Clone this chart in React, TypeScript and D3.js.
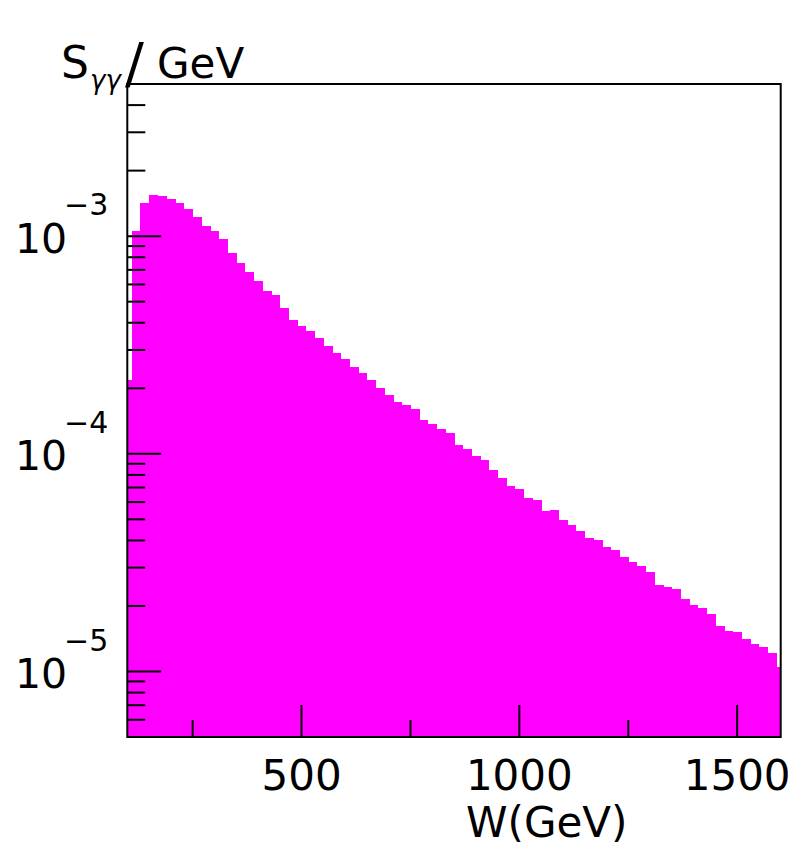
import React from "react";
import * as d3 from "d3";

// histogram: 20 GeV bins centred on 100, 120, ... 1600
const binCenters = d3.range(100, 1601, 20);
const binWidth = 20;

// S_yy / GeV, one per bin
const sValues = [
  2.19e-4, 1.054e-3, 1.425e-3, 1.543e-3, 1.527e-3, 1.475e-3, 1.425e-3, 1.327e-3,
  1.223e-3, 1.112e-3, 1.054e-3, 9.66e-4, 8.39e-4, 7.54e-4, 6.83e-4, 6.21e-4,
  5.58e-4, 5.34e-4, 4.69e-4, 4.14e-4, 3.86e-4, 3.66e-4, 3.41e-4, 3.14e-4,
  2.91e-4, 2.73e-4, 2.51e-4, 2.355e-4, 2.18e-4, 2.01e-4, 1.87e-4, 1.73e-4,
  1.67e-4, 1.6e-4, 1.426e-4, 1.377e-4, 1.302e-4, 1.248e-4, 1.102e-4, 1.053e-4,
  9.81e-5, 9.4e-5, 8.46e-5, 7.75e-5, 7.09e-5, 6.9e-5, 6.27e-5, 6.16e-5,
  5.44e-5, 5.54e-5, 4.95e-5, 4.72e-5, 4.4e-5, 4.1e-5, 4.03e-5, 3.73e-5,
  3.63e-5, 3.36e-5, 3.18e-5, 3.06e-5, 2.85e-5, 2.5e-5, 2.45e-5, 2.4e-5,
  2.15e-5, 2.03e-5, 1.96e-5, 1.84e-5, 1.62e-5, 1.54e-5, 1.52e-5, 1.41e-5,
  1.34e-5, 1.295e-5, 1.215e-5, 1.054e-5,
];

const xDomain = [100, 1600];
const yDomain = [5e-6, 5e-3];
const xMinorTicks = [250, 750, 1250];
const xMajorTicks = [500, 1000, 1500];
const yDecades = [-3, -4, -5];

const FONT = "'DejaVu Sans', sans-serif";

export default function App() {
  const left = 127.3;
  const right = 780.7;
  const top = 84;
  const bottom = 737;

  const x = d3.scaleLinear().domain(xDomain).range([left, right]);
  const y = d3.scaleLog().domain(yDomain).range([bottom, top]);

  // minor log ticks 2..9 x 10^n inside the domain
  const yMinor: number[] = [];
  for (let e = -6; e <= -3; e++) {
    for (let m = 2; m <= 9; m++) {
      const v = m * Math.pow(10, e);
      if (v > yDomain[0] && v < yDomain[1]) yMinor.push(v);
    }
  }

  return (
    <svg
      width={796}
      height={850}
      style={{ position: "absolute", left: 0, top: 0, background: "#fff" }}
    >
      <defs>
        <clipPath id="frame">
          <rect x={left} y={top} width={right - left} height={bottom - top} />
        </clipPath>
      </defs>

      {/* histogram */}
      <g clipPath="url(#frame)" shapeRendering="crispEdges">
        {binCenters.map((c, i) => (
          <rect
            key={c}
            x={x(c - binWidth / 2)}
            y={y(sValues[i])}
            width={x(c + binWidth / 2) - x(c - binWidth / 2) + 0.5}
            height={bottom - y(sValues[i])}
            fill="#ff00ff"
          />
        ))}
      </g>

      {/* frame */}
      <rect
        x={left}
        y={top}
        width={right - left}
        height={bottom - top}
        fill="none"
        stroke="#000"
        strokeWidth={2}
      />

      {/* y ticks */}
      {yDecades.map((d) => (
        <line
          key={"yM" + d}
          x1={left}
          x2={left + 34}
          y1={y(Math.pow(10, d))}
          y2={y(Math.pow(10, d))}
          stroke="#000"
          strokeWidth={2}
        />
      ))}
      {yMinor.map((v) => (
        <line
          key={"ym" + v}
          x1={left}
          x2={left + 18}
          y1={y(v)}
          y2={y(v)}
          stroke="#000"
          strokeWidth={2}
        />
      ))}

      {/* x ticks */}
      {xMajorTicks.map((t) => (
        <line
          key={"xM" + t}
          x1={x(t)}
          x2={x(t)}
          y1={bottom}
          y2={bottom - 32}
          stroke="#000"
          strokeWidth={2}
        />
      ))}
      {xMinorTicks.map((t) => (
        <line
          key={"xm" + t}
          x1={x(t)}
          x2={x(t)}
          y1={bottom}
          y2={bottom - 17}
          stroke="#000"
          strokeWidth={2}
        />
      ))}

      {/* y tick labels 10^n */}
      {yDecades.map((d) => {
        const ty = y(Math.pow(10, d));
        return (
          <g key={"yl" + d} fontFamily={FONT} fill="#000">
            <text x={15} y={ty + 16.5} fontSize={41}>
              10
            </text>
            <text x={64} y={ty - 20.8} fontSize={30}>
              {"\u2212" + Math.abs(d)}
            </text>
          </g>
        );
      })}

      {/* x tick labels */}
      {xMajorTicks.map((t) => (
        <text
          key={"xl" + t}
          x={x(t)}
          y={790}
          fontSize={42}
          fontFamily={FONT}
          textAnchor="middle"
        >
          {t}
        </text>
      ))}

      {/* axis titles */}
      <text x={466} y={837} fontSize={42} fontFamily={FONT}>
        W(GeV)
      </text>
      <g fontFamily={FONT}>
        <text x={61} y={78} fontSize={44}>
          S
        </text>
        <text x={90} y={89} fontSize={26} fontStyle="italic">
          γγ
        </text>
        <text x={125} y={82} fontSize={56}>
          /
        </text>
        <text x={157} y={78} fontSize={42}>
          GeV
        </text>
      </g>
    </svg>
  );
}
